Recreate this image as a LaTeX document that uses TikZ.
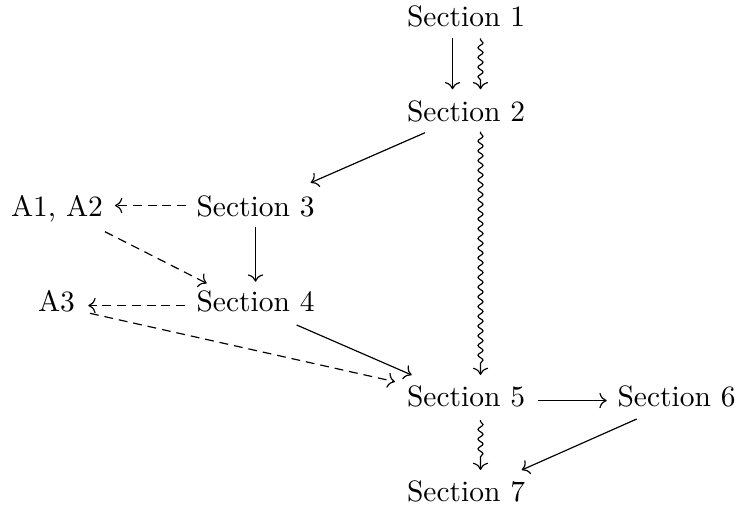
\documentclass[tikz,border=0pt]{standalone}
\usetikzlibrary{calc,decorations.pathmorphing,arrows.meta}
\begin{document}
\begin{tikzpicture}[x=0.339pt,y=-0.339pt,
  lbl/.style={anchor=base,inner sep=0pt,font=\fontsize{10}{12}\selectfont},
  arr/.style={-{Computer Modern Rightarrow},line width=0.4pt},
  dsh/.style={-{Computer Modern Rightarrow},line width=0.4pt,dash pattern=on 3pt off 2pt},
  sqg/.style={-{Computer Modern Rightarrow},line width=0.4pt,decorate,decoration={snake,amplitude=0.85pt,segment length=3.3pt,pre length=0.5pt,post length=3pt}}]
\useasboundingbox (0,0) rectangle (738,506);
\node[lbl] (s1) at (466,26.7) {Section 1};
\node[lbl] (s2) at (466,121.7) {Section 2};
\node[lbl] (s3) at (255.5,216.7) {Section 3};
\node[lbl] (a12) at (57,216.7) {A1, A2};
\node[lbl] (s4) at (255.5,311.7) {Section 4};
\node[lbl] (a3) at (56.5,311.7) {A3};
\node[lbl] (s5) at (466,406.7) {Section 5};
\node[lbl] (s6) at (676.5,406.7) {Section 6};
\node[lbl] (s7) at (466,501.7) {Section 7};
\draw[arr] ($(s1.base)+(-13.5,11.6)$) -- ($(s2.base)+(-13.5,-32.4)$);
\draw[sqg] ($(s1.base)+(14.5,11.6)$) -- ($(s2.base)+(14.5,-32.4)$);
\draw[arr] ($(s2.base)+(-41,11)$) -- ($(s3.base)+(55.2,-34)$);
\draw[sqg] ($(s2.base)+(14.5,10)$) -- ($(s5.base)+(14.5,-31.7)$);
\draw[dsh] ($(s3.base)+(-69.5,-11.2)$) -- ($(a12.base)+(58,-11.2)$);
\draw[arr] ($(s3.base)+(0,10)$) -- ($(s4.base)+(0,-30)$);
\draw[dsh] ($(a12.base)+(48,15)$) -- ($(s4.base)+(-48.8,-28.4)$);
\draw[dsh] ($(s4.base)+(-70.5,-6.2)$) -- ($(a3.base)+(31.8,-6.2)$);
\draw[arr] ($(s4.base)+(41.2,13.3)$) -- ($(s5.base)+(-54.3,-31.7)$);
\draw[dsh] ($(a3.base)+(33.5,1.6)$) -- ($(s5.base)+(-71,-25)$);
\draw[arr] ($(s5.base)+(72.3,-6.2)$) -- ($(s6.base)+(-69.8,-6.2)$);
\draw[sqg] ($(s5.base)+(14.5,13.3)$) -- ($(s7.base)+(14.5,-31.7)$);
\draw[arr] ($(s6.base)+(-39.8,12.3)$) -- ($(s7.base)+(55.7,-31.7)$);
\end{tikzpicture}
\end{document}
